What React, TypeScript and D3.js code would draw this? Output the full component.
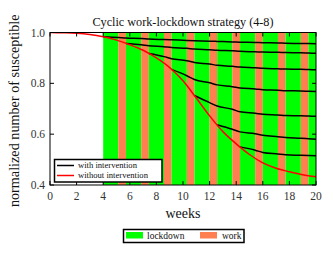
import * as d3 from 'd3';

// weeks at which the cycle switches (lockdown starts at even index, work at odd index)
const phaseWeeks = [4, 5.14, 5.71, 6.86, 7.43, 8.57, 9.14, 10.29, 10.86, 12, 12.57, 13.71, 14.29, 15.43, 16, 17.14, 17.71, 18.86, 19.43, 20];

// without intervention
const freeWeeks = [0, 1, 2, 3, 4, 5, 6, 7, 8, 9, 10, 11, 12, 13, 14, 15, 16, 17, 18, 19, 20];
const freeValues = [1.0, 0.999, 0.997, 0.992, 0.983, 0.97, 0.952, 0.93, 0.9, 0.862, 0.81, 0.742, 0.672, 0.61, 0.562, 0.52, 0.487, 0.466, 0.452, 0.44, 0.432];

// with intervention: first index into phaseWeeks, then the values from there on
const curveStart = [0, 2, 4, 6, 8, 10, 12];
const curve1 = [0.983, 0.98, 0.978, 0.976, 0.974, 0.972, 0.971, 0.969, 0.968, 0.966, 0.965, 0.963, 0.962, 0.961, 0.96, 0.959, 0.958, 0.957, 0.957, 0.956];
const curve2 = [0.957, 0.952, 0.948, 0.944, 0.941, 0.938, 0.935, 0.932, 0.93, 0.928, 0.926, 0.924, 0.923, 0.922, 0.921, 0.92, 0.919, 0.918];
const curve3 = [0.917, 0.905, 0.897, 0.889, 0.882, 0.876, 0.871, 0.867, 0.864, 0.861, 0.859, 0.857, 0.856, 0.855, 0.854, 0.853];
const curve4 = [0.855, 0.83, 0.815, 0.802, 0.794, 0.787, 0.782, 0.778, 0.775, 0.773, 0.771, 0.77, 0.769, 0.768];
const curve5 = [0.752, 0.724, 0.711, 0.698, 0.688, 0.682, 0.678, 0.675, 0.673, 0.672, 0.671, 0.67];
const curve6 = [0.637, 0.619, 0.609, 0.602, 0.596, 0.59, 0.587, 0.584, 0.582, 0.58];
const curve7 = [0.55, 0.537, 0.528, 0.522, 0.519, 0.517, 0.516, 0.515];
const curves = [curve1, curve2, curve3, curve4, curve5, curve6, curve7];

const xTicks = [0, 2, 4, 6, 8, 10, 12, 14, 16, 18, 20];
const yTicks = [0.4, 0.6, 0.8, 1.0];

const GREEN = '#00ff00';
const ORANGE = '#ff7f50';
const FONT = '"Liberation Serif", serif';

export default function App() {
  const width = 333;
  const height = 253;
  const m = {left: 50, right: 17, top: 32.5, bottom: 68};
  const x = d3.scaleLinear().domain([0, 20]).range([m.left, width - m.right]);
  const y = d3.scaleLinear().domain([0.4, 1.0]).range([height - m.bottom, m.top]);

  const line = d3
    .line<[number, number]>()
    .x((d) => x(d[0]))
    .y((d) => y(d[1]))
    .curve(d3.curveMonotoneX);

  const freePts = freeWeeks.map((w, i) => [w, freeValues[i]] as [number, number]);
  const curvePts = curves.map((vals, c) => vals.map((v, i) => [phaseWeeks[curveStart[c] + i], v] as [number, number]));

  const bands = phaseWeeks.slice(0, -1).map((w, i) => ({
    x0: w,
    x1: phaseWeeks[i + 1],
    fill: i % 2 === 0 ? GREEN : ORANGE,
  }));

  const [x0, x1] = x.range();
  const [y0, y1] = y.range();
  const tick = 4;

  return (
    <svg width={width} height={height} style={{position: 'absolute', left: 0, top: 0}} fontFamily={FONT}>
      <rect width={width} height={height} fill="#fff" />
      <defs>
        <clipPath id="plot">
          <rect x={x0} y={y1} width={x1 - x0} height={y0 - y1} />
        </clipPath>
      </defs>
      {bands.map((b, i) => (
        <rect key={i} x={x(b.x0)} y={y1} width={x(b.x1) - x(b.x0)} height={y0 - y1} fill={b.fill} />
      ))}
      <g clipPath="url(#plot)" fill="none" strokeWidth={1.5} strokeLinejoin="round">
        {curvePts.map((pts, i) => (
          <path key={i} d={line(pts) ?? ''} stroke="#000" />
        ))}
        <path d={line(freePts) ?? ''} stroke="#ff0000" />
      </g>
      <rect x={x0} y={y1} width={x1 - x0} height={y0 - y1} fill="none" stroke="#000" strokeWidth={1} />
      {xTicks.map((t) => (
        <g key={t}>
          <line x1={x(t)} x2={x(t)} y1={y0} y2={y0 - tick} stroke="#000" />
          <line x1={x(t)} x2={x(t)} y1={y1} y2={y1 + tick} stroke="#000" />
          <text x={x(t)} y={y0 + 15} textAnchor="middle" fontSize={11.5} fill="#333">
            {t}
          </text>
        </g>
      ))}
      {yTicks.map((t) => (
        <g key={t}>
          <line x1={x0} x2={x0 + tick} y1={y(t)} y2={y(t)} stroke="#000" />
          <line x1={x1} x2={x1 - tick} y1={y(t)} y2={y(t)} stroke="#000" />
          <text x={x0 - 5} y={y(t) + 4} textAnchor="end" fontSize={11.5} fill="#333">
            {t.toFixed(1)}
          </text>
        </g>
      ))}
      <text x={(x0 + x1) / 2} y={26} textAnchor="middle" fontSize={12.2} fill="#111">
        Cyclic work-lockdown strategy (4-8)
      </text>
      <text x={(x0 + x1) / 2} y={218} textAnchor="middle" fontSize={14} fill="#111">
        weeks
      </text>
      <text transform={`translate(19, ${(y0 + y1) / 2 + 2}) rotate(-90)`} textAnchor="middle" fontSize={14.2} fill="#111">
        normalized number of susceptible
      </text>

      {/* legend inside plot */}
      <g>
        <rect x={54.5} y={159.5} width={107.5} height={22.5} fill="#fff" stroke="#000" strokeWidth={1.5} />
        <line x1={57} x2={74} y1={165.5} y2={165.5} stroke="#000" strokeWidth={1.5} />
        <line x1={57} x2={74} y1={175.5} y2={175.5} stroke="#ff0000" strokeWidth={1.5} />
        <text x={78} y={168.3} fontSize={8.6} fill="#111">with intervention</text>
        <text x={78} y={178.3} fontSize={8.6} fill="#111">without intervention</text>
      </g>

      {/* legend below */}
      <g>
        <rect x={123.5} y={229.5} width={120.5} height={13} fill="#fff" stroke="#000" strokeWidth={1.5} />
        <rect x={126} y={232} width={17} height={6.5} fill={GREEN} />
        <text x={147} y={238.5} fontSize={9.5} fill="#111">lockdown</text>
        <rect x={200} y={232} width={17} height={6.5} fill={ORANGE} />
        <text x={222} y={238.5} fontSize={9.5} fill="#111">work</text>
      </g>
    </svg>
  );
}
